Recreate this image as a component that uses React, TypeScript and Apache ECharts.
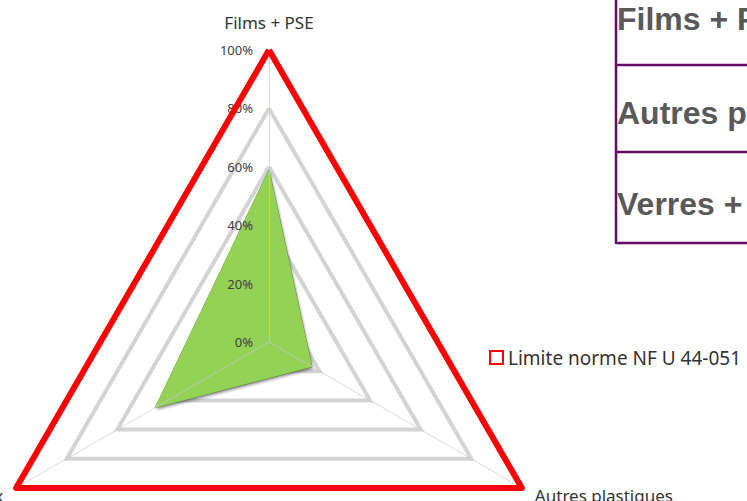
import React, { useEffect, useRef } from "react";
import * as echarts from "echarts";

const indicatorNames = ["Films + PSE", "Verres + métaux", "Autres plastiques"];
const indicatorMax = [1, 1, 1];
const echantillonValues = [0.59, 0.45, 0.17];
const limiteValues = [1, 1, 1];
const limiteName = "Limite norme NF U 44-051";
const echantillonName = "Echantillon";
const tableRows = ["Films + PSE", "Autres plastiques", "Verres + métaux"];

export default function App() {
  const ref = useRef<HTMLDivElement>(null);
  useEffect(() => {
    document.body.style.margin = "0";
    const chart = echarts.init(ref.current!, null, { renderer: "svg" });
    const font = "Noto Sans";
    const purple = "#660A66";
    const tableText = tableRows.map((t, i) => ({
      type: "text",
      left: 617,
      top: [3, 97, 188][i],
      style: {
        text: t,
        fill: "#595959",
        font: "bold 32px 'Liberation Sans', Arial, sans-serif",
      },
    }));
    const common = {
      center: [269, 342],
      radius: 292,
      startAngle: 90,
      shape: "polygon",
      splitNumber: 5,
    };
    chart.setOption({
      animation: false,
      backgroundColor: "#ffffff",
      textStyle: { fontFamily: font },
      legend: {
        data: [
          {
            name: limiteName,
            icon: "rect",
            itemStyle: { color: "#ffffff", borderColor: "#FF0000", borderWidth: 2 },
          },
        ],
        left: 484,
        top: 343,
        itemWidth: 13,
        itemHeight: 13,
        textStyle: { fontSize: 19, color: "#333333", fontFamily: font },
        selectedMode: false,
      },
      radar: [
        {
          ...common,
          z: 1,
          nameGap: 15,
          axisName: {
            color: "#333333",
            fontSize: 17,
            fontFamily: font,
            formatter: (name: string) => (name === indicatorNames[0] ? `{top|${name}}` : name),
            rich: { top: { fontSize: 17, color: "#333333", fontFamily: font, padding: [0, 0, 4, 0] } },
          },
          indicator: indicatorNames.map((n, i) => ({ name: n, min: 0, max: indicatorMax[i] })),
          axisLabel: { show: false },
          axisTick: { show: false },
          axisLine: { show: false },
          splitLine: { lineStyle: { color: "#D3D3D3", width: 4 } },
          splitArea: { show: false },
        },
        {
          ...common,
          z: 3,
          axisName: { show: false },
          indicator: indicatorNames.map((n, i) => ({
            name: n,
            min: 0,
            max: indicatorMax[i],
            ...(i === 0
              ? {
                  axisLabel: {
                    show: true,
                    formatter: (v: number) => `${Math.round(v * 100)}%`,
                    color: "#404040",
                    fontSize: 13,
                    fontFamily: font,
                    margin: 16,
                    align: "right",
                    showMinLabel: true,
                    showMaxLabel: true,
                  },
                }
              : {}),
          })),
          axisLabel: { show: false },
          axisTick: { show: false },
          axisLine: { lineStyle: { color: "rgba(200,200,220,0.7)", width: 1 } },
          splitLine: { show: false },
          splitArea: { show: false },
        },
      ],
      series: [
        {
          type: "radar",
          radarIndex: 0,
          symbol: "none",
          z: 2,
          data: [
            {
              name: echantillonName,
              value: echantillonValues,
              lineStyle: { color: "#6E9E38", width: 1 },
              areaStyle: {
                color: "#94D256",
                opacity: 1,
                shadowColor: "rgba(0,0,0,0.45)",
                shadowBlur: 3,
                shadowOffsetX: 1,
                shadowOffsetY: 2,
              },
            },
          ],
        },
        {
          type: "radar",
          radarIndex: 0,
          symbol: "none",
          z: 4,
          data: [
            {
              name: limiteName,
              value: limiteValues,
              lineStyle: { color: "#FF0000", width: 6 },
            },
          ],
        },
      ],
      graphic: [
        { type: "line", shape: { x1: 616, y1: 0, x2: 616, y2: 244 }, style: { stroke: purple, lineWidth: 2.5 } },
        { type: "line", shape: { x1: 616, y1: 65, x2: 747, y2: 65 }, style: { stroke: purple, lineWidth: 2.5 } },
        { type: "line", shape: { x1: 616, y1: 152, x2: 747, y2: 152 }, style: { stroke: purple, lineWidth: 2.5 } },
        { type: "line", shape: { x1: 616, y1: 243, x2: 747, y2: 243 }, style: { stroke: purple, lineWidth: 2.5 } },
        ...tableText,
      ],
    });
    return () => chart.dispose();
  }, []);
  return <div ref={ref} style={{ width: 747, height: 501, overflow: "hidden" }} />;
}
